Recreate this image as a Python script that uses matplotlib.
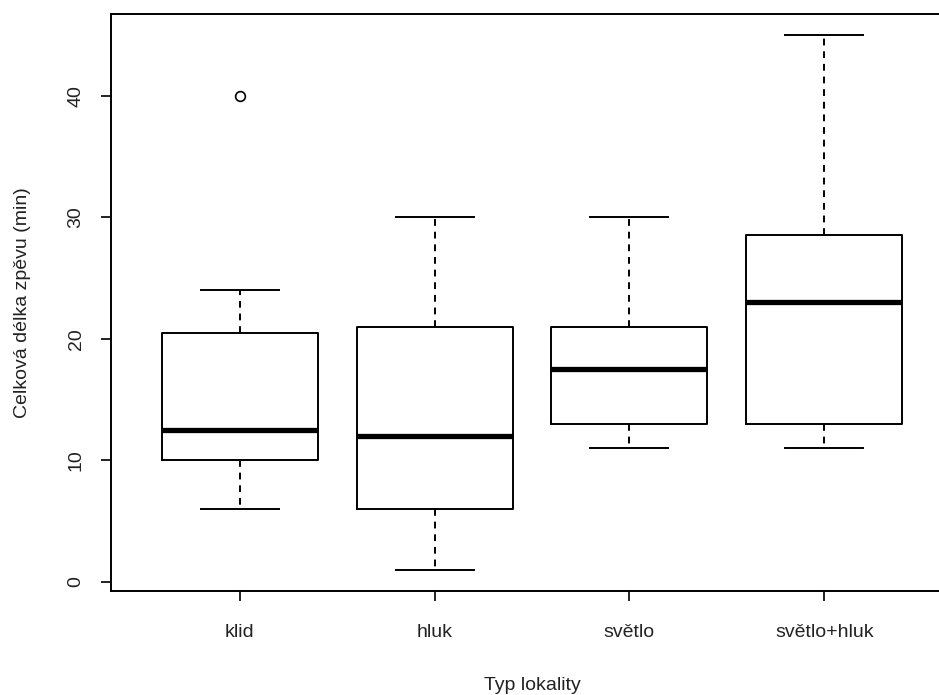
import matplotlib
matplotlib.use("Agg")
import matplotlib.pyplot as plt

plt.rcParams['font.family'] = ['Liberation Sans', 'DejaVu Sans']

# Data
categories = ["klid", "hluk", "světlo", "světlo+hluk"]
whisker_low = [6, 1, 11, 11]
q1 = [10, 6, 13, 13]
medians = [12.5, 12, 17.5, 23]
q3 = [20.5, 21, 21, 28.5]
whisker_high = [24, 30, 30, 45]
outliers = [[40], [], [], []]

stats = []
for i, name in enumerate(categories):
    stats.append({
        "label": name,
        "whislo": whisker_low[i],
        "q1": q1[i],
        "med": medians[i],
        "q3": q3[i],
        "whishi": whisker_high[i],
        "fliers": outliers[i],
    })

fig = plt.figure(figsize=(9.39, 6.95), dpi=100)
ax = fig.add_axes([111 / 939, 104 / 695, 842 / 939, 577.5 / 695])

lw = 1.4
ax.bxp(stats, positions=[1, 2, 3, 4], widths=0.8,
       boxprops=dict(color="black", linewidth=lw),
       medianprops=dict(color="black", linewidth=3.8, solid_capstyle="butt"),
       whiskerprops=dict(color="black", linewidth=lw, linestyle=(0, (3.5, 3))),
       capprops=dict(color="black", linewidth=lw),
       flierprops=dict(marker="o", markerfacecolor="none", markeredgecolor="black",
                       markersize=7, markeredgewidth=1.2),
       capwidths=0.4)

ax.set_xlim(0.34, 4.66)
ax.set_ylim(-0.76, 46.76)

for s in ax.spines.values():
    s.set_linewidth(1.4)

ax.set_yticks([0, 10, 20, 30, 40])
ax.set_yticklabels(["0", "10", "20", "30", "40"], rotation=90, va="center")
ax.set_xticks([1, 2, 3, 4])
ax.set_xticklabels(categories)
ax.tick_params(axis="both", direction="out", length=7, width=1.4, labelsize=14,
               colors="#222222", pad=12)
ax.tick_params(axis="x", pad=17)

ax.set_xlabel("Typ lokality", fontsize=14, labelpad=26, color="#222222")
ax.set_ylabel("Celková délka zpěvu (min)", fontsize=14, labelpad=26, color="#222222")

fig.savefig("out.png", dpi=100)
